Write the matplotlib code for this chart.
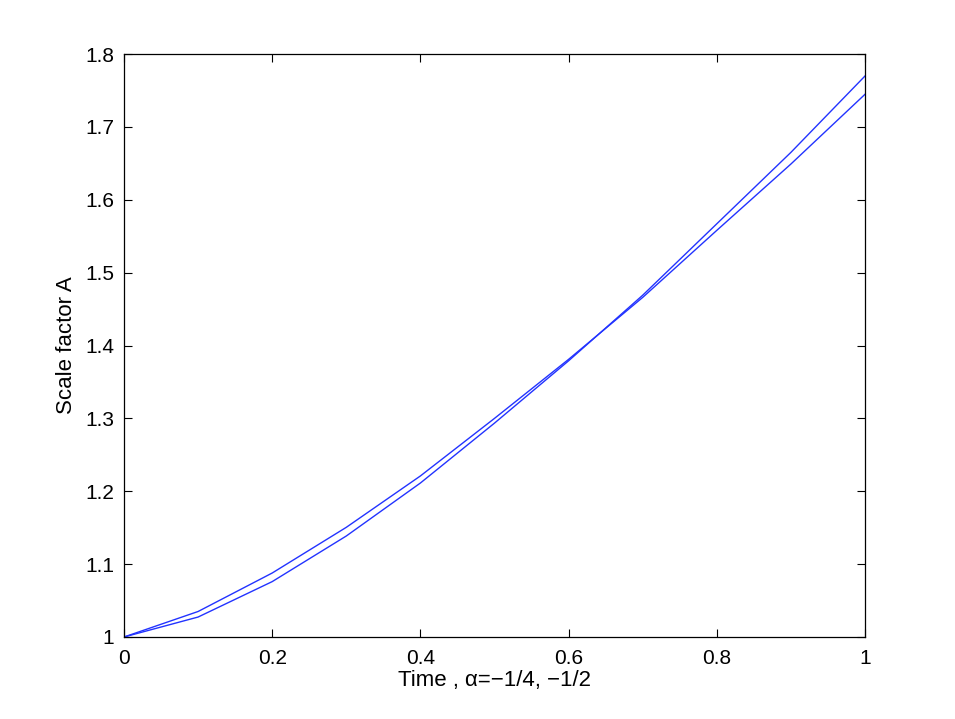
import matplotlib
matplotlib.use("Agg")
import matplotlib.pyplot as plt

plt.rcParams['font.family'] = ['Liberation Sans', 'DejaVu Sans']

time = [0.0, 0.1, 0.2, 0.3, 0.4, 0.5, 0.6, 0.7, 0.8, 0.9, 1.0]
a_quarter = [1.0, 1.035, 1.0878, 1.1505, 1.221, 1.300, 1.381, 1.466, 1.558, 1.649, 1.7447]
a_half = [1.0, 1.0274, 1.076, 1.1386, 1.2113, 1.2935, 1.379, 1.469, 1.567, 1.665, 1.7698]

xticks = [0, 0.2, 0.4, 0.6, 0.8, 1]
xticklabels = ['0', '0.2', '0.4', '0.6', '0.8', '1']
yticks = [1, 1.1, 1.2, 1.3, 1.4, 1.5, 1.6, 1.7, 1.8]
yticklabels = ['1', '1.1', '1.2', '1.3', '1.4', '1.5', '1.6', '1.7', '1.8']

fig = plt.figure(figsize=(9.55, 7.19), dpi=100)
ax = fig.add_axes([124/955, 82/719, (865-124)/955, (637-54)/719])

ax.plot(time, a_quarter, color='#2233ff', lw=1.0)
ax.plot(time, a_half, color='#2233ff', lw=1.0)

ax.set_xlim(0, 1)
ax.set_ylim(1, 1.8)
ax.set_xticks(xticks)
ax.set_xticklabels(xticklabels)
ax.set_yticks(yticks)
ax.set_yticklabels(yticklabels)
ax.tick_params(direction='in', top=True, right=True, labelsize=15, length=6, width=0.8, pad=7)
ax.tick_params(axis='x', pad=9)
for s in ax.spines.values():
    s.set_linewidth(0.9)

ax.set_xlabel('Time , \u03b1=\u22121/4, \u22121/2', fontsize=16, labelpad=1)
ax.set_ylabel('Scale factor A', fontsize=16, labelpad=6)

fig.savefig('out.png', dpi=100)
